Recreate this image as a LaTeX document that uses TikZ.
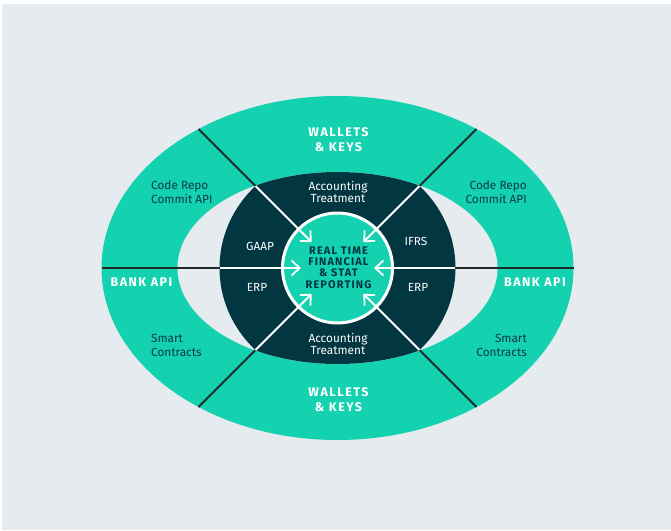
\documentclass[tikz,border=0pt]{standalone}
\usepackage{fontspec}
\setmainfont{Fira Sans}
\newfontfamily\capsfont[LetterSpace=12]{Fira Sans}
\newfontfamily\corefont[LetterSpace=10]{Fira Sans}
\usetikzlibrary{arrows.meta}
\definecolor{bg}{HTML}{E6EBEF}
\definecolor{ringgreen}{HTML}{14D1B0}
\definecolor{darkteal}{HTML}{023641}
\definecolor{lineblack}{HTML}{1E2A2A}
\definecolor{textteal}{HTML}{0A3A48}
\tikzset{
  divider/.style={draw=lineblack, line width=2pt},
  arrowline/.style={draw=white, line width=1.8pt, -{Straight Barb[length=8pt,width=15pt]}},
  ringcap/.style={text=white, align=center, font=\capsfont\bfseries\fontsize{12.5}{15}\selectfont, inner sep=0pt},
  ringtext/.style={text=textteal, font=\fontsize{11.8}{14}\selectfont, inner sep=0pt},
  darktext/.style={text=white, align=center, font=\fontsize{11.8}{12.5}\selectfont, inner sep=0pt},
  coretext/.style={text=darkteal, align=center, font=\corefont\bfseries\fontsize{11}{11.3}\selectfont, inner sep=0pt}
}
\begin{document}
\begin{tikzpicture}[x=1pt,y=-1pt]
\useasboundingbox (0,0) rectangle (671,530);
\fill[white] (0,0) rectangle (671,530);
\fill[bg] (2,4) rectangle (671,530);
\coordinate (C) at (337.5,268);
% rings
\fill[ringgreen] (C) ellipse [x radius=236pt, y radius=172pt];
\fill[bg] (C) ellipse [x radius=160pt, y radius=96pt];
\begin{scope}
  \clip (C) ellipse [x radius=160pt, y radius=96pt];
  \fill[darkteal] (C) ellipse [x radius=118pt, y radius=114pt];
\end{scope}
% coordinates of dividers
\coordinate (OL) at (101.5,268);  \coordinate (DL) at (220,268);   \coordinate (TL) at (301,268);
\coordinate (OR) at (573.5,268);  \coordinate (DR) at (455,268);   \coordinate (TR) at (374,268);
\coordinate (OUL) at (198.5,129); \coordinate (DUL) at (255.5,186); \coordinate (TUL) at (311.7,242.2);
\coordinate (OUR) at (476.5,129); \coordinate (DUR) at (419.5,186); \coordinate (TUR) at (363.3,242.2);
\coordinate (OLL) at (198.5,407); \coordinate (DLL) at (255.5,350); \coordinate (TLL) at (311.7,293.8);
\coordinate (OLR) at (476.5,407); \coordinate (DLR) at (419.5,350); \coordinate (TLR) at (363.3,293.8);
% outer dark dividers
\draw[divider] (OL) -- (DL);
\draw[divider] (OR) -- (DR);
\draw[divider] (OUL) -- (DUL);
\draw[divider] (OUR) -- (DUR);
\draw[divider] (OLL) -- (DLL);
\draw[divider] (OLR) -- (DLR);
% centre circle
\draw[white, line width=3pt, fill=ringgreen] (C) circle [radius=55pt];
% white arrows
\draw[arrowline] (DL) -- (TL);
\draw[arrowline] (DR) -- (TR);
\draw[arrowline] (DUL) -- (TUL);
\draw[arrowline] (DUR) -- (TUR);
\draw[arrowline] (DLL) -- (TLL);
\draw[arrowline] (DLR) -- (TLR);
% ring labels
\node[ringcap] (wt) at (338.5,140) {WALLETS\\\& KEYS};
\node[ringcap] (wb) at (338.5,400) {WALLETS\\\& KEYS};
\node[ringcap] (bl) at (141.5,282.5) {BANK API};
\node[ringcap] (br) at (535,282.5) {BANK API};
\node[ringtext, align=left, anchor=west] (crl) at (151,192) {Code Repo\\Commit API};
\node[ringtext, align=right, anchor=east] (crr) at (527,192) {Code Repo\\Commit API};
\node[ringtext, align=left, anchor=west] (scl) at (151,345) {Smart\\Contracts};
\node[ringtext, align=right, anchor=east] (scr) at (527,345) {Smart\\Contracts};
% dark labels
\node[darktext] (att) at (338,192) {Accounting\\Treatment};
\node[darktext] (atb) at (338,344) {Accounting\\Treatment};
\node[darktext] (gaap) at (260,246) {GAAP};
\node[darktext] (ifrs) at (416,241.5) {IFRS};
\node[darktext] (erpl) at (257,287.5) {ERP};
\node[darktext] (erpr) at (418,287.5) {ERP};
% core
\node[coretext] (core) at (338.5,267.5) {REAL TIME\\FINANCIAL\\\& STAT\\REPORTING};
\end{tikzpicture}
\end{document}
